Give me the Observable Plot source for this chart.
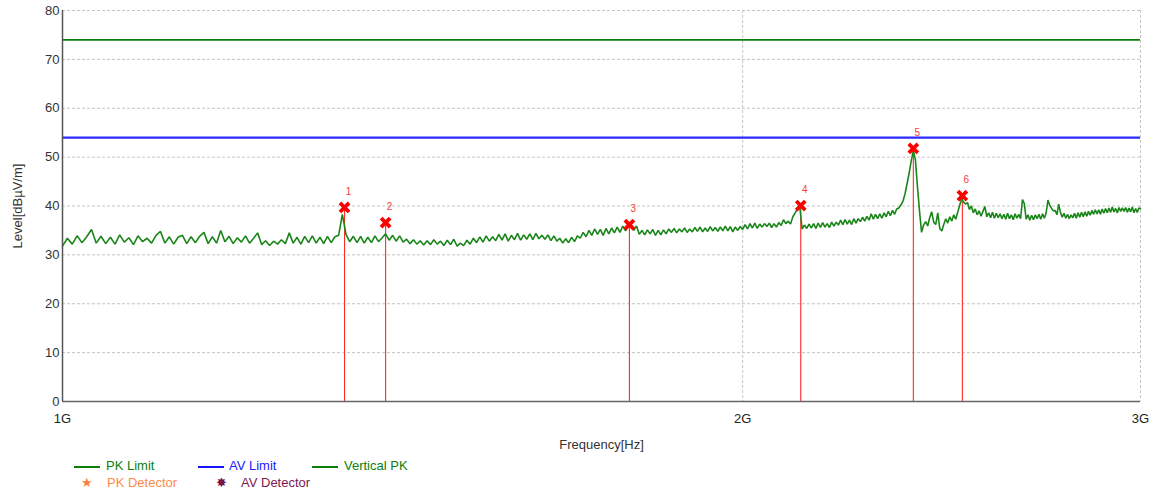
<!DOCTYPE html>
<html>
<head>
<meta charset="utf-8">
<script src="https://cdn.jsdelivr.net/npm/d3@7"></script>
<script src="https://cdn.jsdelivr.net/npm/@observablehq/plot@0.6"></script>
<style>
  body { margin: 0; background: #fff; font-family: "Liberation Sans", Arial, sans-serif; }
  #wrap { position: relative; width: 1156px; }
  #legend { position: relative; height: 40px; font-size: 13px; }
  .li { position: absolute; white-space: nowrap; line-height: 16px; }
  .sw { position: absolute; height: 2px; }
  .sym { position: absolute; font-size: 13px; line-height: 16px; }
</style>
</head>
<body>
<div id="wrap">
  <div id="chart"></div>
  <div id="legend"></div>
</div>
<script>
// ---- data ----
const sweepStartMHz = 1000;
const sweepStepMHz = 5;
const traceLevels = [
  31.8, 33.4, 32.2, 33.9, 32.5, 33.7, 35.2, 32.4, 33.8, 32.3,
  33.6, 32.2, 34.1, 32.6, 33.5, 32.1, 33.9, 32.7, 33.4, 32.4,
  34.0, 34.8, 32.4, 33.7, 32.2, 33.6, 34.0, 32.3, 33.7, 32.5,
  33.8, 34.6, 32.3, 33.7, 32.4, 35.0, 32.7, 33.8, 32.3, 33.5,
  32.6, 33.9, 32.4, 33.4, 34.5, 32.1, 32.9, 31.9, 32.8, 32.2,
  33.1, 32.3, 34.5, 32.4, 33.6, 32.2, 33.8, 32.5, 33.9, 32.4,
  33.6, 32.3, 33.8, 32.5, 33.7, 34.0, 38.3, 34.2, 32.7, 33.8,
  32.5, 33.8, 32.4, 33.6, 32.5, 33.9, 32.7, 33.5, 34.3, 33.0,
  34.0, 32.8, 33.9, 32.6, 33.2, 32.3, 33.1, 32.2, 32.9, 32.0,
  32.9, 32.1, 33.1, 32.2, 32.8, 31.9, 33.0, 32.1, 33.2, 31.8,
  32.4, 31.9, 33.0, 32.2, 33.4, 32.5, 33.7, 32.6, 33.9, 32.8,
  33.7, 32.9, 34.2, 33.0, 34.3, 32.8, 34.0, 33.1, 34.4, 33.0,
  34.1, 33.2, 34.3, 33.1, 34.4, 33.3, 34.0, 33.2, 34.1, 32.9,
  33.9, 32.8, 33.4, 32.4, 33.3, 32.5, 33.6, 32.7, 33.9, 33.4,
  34.6, 33.7, 35.0, 34.0, 35.3, 34.2, 35.2, 34.0, 35.4, 34.3,
  35.5, 34.5, 35.7, 34.6, 35.9, 34.9, 36.1, 36.0, 35.0, 35.9,
  34.2, 35.0, 34.1, 35.1, 34.3, 35.2, 34.0, 35.0, 34.1, 35.1,
  34.3, 35.3, 34.6, 35.4, 34.5, 35.3, 34.7, 35.5, 34.6, 35.3,
  34.7, 35.6, 34.8, 35.7, 34.7, 35.5, 34.8, 35.8, 34.9, 35.6,
  34.8, 35.7, 34.9, 35.9, 34.9, 35.8, 34.7, 35.7, 35.0, 35.8,
  35.2, 36.2, 35.3, 36.4, 35.5, 36.5, 35.4, 36.3, 35.7, 36.4,
  35.8, 36.5, 35.6, 36.4, 35.7, 36.6, 36.0, 37.2, 36.4, 36.9,
  36.3, 37.8, 38.6, 39.4, 39.8, 35.3, 36.1, 35.4, 36.3, 35.5,
  36.4, 35.4, 36.5, 35.6, 36.6, 35.7, 36.4, 35.6, 36.7, 35.9,
  36.7, 36.1, 37.1, 36.2, 37.2, 36.3, 37.1, 36.2, 37.4, 36.5,
  37.4, 36.8, 37.7, 36.9, 37.9, 37.1, 38.4, 37.3, 38.3, 37.4,
  38.4, 37.5, 38.6, 37.8, 38.9, 38.0, 39.1, 38.3, 39.4, 39.6,
  40.2, 41.0, 42.5, 44.6, 46.8, 49.3, 51.3, 49.5, 44.0, 39.0,
  34.6, 36.1, 36.8, 35.9, 37.6, 38.8, 36.7, 36.2, 38.6, 35.4,
  34.9, 36.2, 37.4, 36.5, 37.8, 36.9, 38.2, 37.3, 38.7, 40.1,
  41.5, 40.8, 40.4, 40.7, 39.3, 40.0, 38.6, 39.4, 38.2, 39.0,
  37.9, 38.9, 39.9, 37.8, 38.6, 37.6, 38.7, 37.5, 38.5, 37.6,
  38.4, 37.4, 38.3, 37.3, 38.5, 37.4, 38.2, 37.2, 38.4, 37.5,
  38.3, 37.4, 41.3, 40.5, 37.3, 38.2, 37.1, 38.1, 37.2, 38.2,
  37.4, 38.3, 37.3, 38.4, 37.5, 38.6, 41.2, 40.2, 39.5, 39.0,
  39.1, 38.2, 40.4, 38.7, 37.7, 38.5, 37.5, 38.3, 37.4, 38.2,
  37.6, 38.5, 37.5, 38.6, 37.7, 38.7, 37.8, 38.8, 37.9, 38.9,
  38.1, 39.1, 38.3, 39.2, 38.4, 39.2, 38.3, 39.4, 38.5, 39.5,
  38.6, 39.6, 38.7, 39.8, 38.8, 39.5, 38.6, 39.7, 38.9, 39.6,
  38.9, 39.7, 38.7, 39.6, 38.8, 39.8, 38.6, 39.5, 38.7, 39.6, 39.4
];
const markerFreqMHz = [1333, 1390, 1782, 2122, 2380, 2502];
const markerLevels = [39.7, 36.6, 36.2, 40.1, 51.8, 42.1];
const markerLabels = ["1", "2", "3", "4", "5", "6"];
const pkLimit = 74;
const avLimit = 54;
const xTicksMHz = [1000, 2000, 3000];
const xTickLabels = ["1G", "2G", "3G"];
const yTicks = [0, 10, 20, 30, 40, 50, 60, 70, 80];
const xLabel = "Frequency[Hz]";
const yLabel = "Level[dBµV/m]";
const legendItems = ["PK Limit", "AV Limit", "Vertical PK", "PK Detector", "AV Detector"];

// ---- tables ----
const trace = traceLevels.map((v, i) => ({f: sweepStartMHz + i * sweepStepMHz, v}));
const markers = markerFreqMHz.map((f, i) => ({f, v: markerLevels[i], label: markerLabels[i]}));

const chart = Plot.plot({
  width: 1156,
  height: 455,
  marginLeft: 62,
  marginRight: 16,
  marginTop: 10,
  marginBottom: 54,
  style: {fontFamily: "'Liberation Sans', Arial, sans-serif", fontSize: "13px", color: "#333", background: "#fff"},
  x: {type: "log", domain: [1000, 3000]},
  y: {domain: [0, 80]},
  marks: [
    Plot.gridY(yTicks.slice(1), {stroke: "#c4c4c4", strokeOpacity: 1, strokeDasharray: "3,2"}),
    Plot.gridX(xTicksMHz.slice(1), {stroke: "#c4c4c4", strokeOpacity: 1, strokeDasharray: "3,2"}),
    Plot.ruleY([pkLimit], {stroke: "#0a800a", strokeWidth: 1.6}),
    Plot.ruleY([avLimit], {stroke: "#2a2aff", strokeWidth: 2.2}),
    Plot.ruleX(markers, {x: "f", y1: 0, y2: "v", stroke: "#ff2a2a", strokeWidth: 1.1}),
    Plot.line(trace, {x: "f", y: "v", stroke: "#1a861a", strokeWidth: 1.6, strokeLinejoin: "miter"}),
    Plot.dot(markers, {x: "f", y: "v", symbol: "times", r: 4.2, stroke: "#ff0000", strokeWidth: 3.8}),
    Plot.text(markers, {x: "f", y: "v", text: "label", dx: 4, dy: -16, fill: "#ff3a3a", fontSize: 10}),
    Plot.axisY(yTicks, {tickSize: 0, tickPadding: 3, label: null, fill: "#333", fontSize: 13}),
    Plot.axisX(xTicksMHz, {tickSize: 0, tickPadding: 12, label: null, tickFormat: (d) => xTickLabels[xTicksMHz.indexOf(d)], fill: "#222", fontSize: 13}),
    Plot.ruleX([1000], {stroke: "#555", strokeWidth: 1.5}),
    Plot.ruleY([0], {stroke: "#666", strokeWidth: 1.5}),
    Plot.text([yLabel], {frameAnchor: "left", textAnchor: "middle", lineAnchor: "middle", dx: -45, rotate: -90, fill: "#333", fontSize: 13}),
    Plot.text([xLabel], {frameAnchor: "bottom", textAnchor: "middle", lineAnchor: "middle", dy: 43, fill: "#333", fontSize: 13})
  ]
});
document.getElementById("chart").appendChild(chart);

// ---- legend ----
const lg = document.getElementById("legend");
const items = [
  {kind: "line", color: "#0a800a", text: legendItems[0], textColor: "#0a800a", sx: 74, tx: 106, row: 0},
  {kind: "line", color: "#1414ff", text: legendItems[1], textColor: "#2020ff", sx: 198, tx: 229, row: 0},
  {kind: "line", color: "#0a800a", text: legendItems[2], textColor: "#0a800a", sx: 312, tx: 344, row: 0},
  {kind: "sym", sym: "★", color: "#ff7f3a", text: legendItems[3], textColor: "#ff8a4a", sx: 81, tx: 107, row: 1},
  {kind: "sym", sym: "✸", color: "#7a1048", text: legendItems[4], textColor: "#7a1a52", sx: 216, tx: 241, row: 1}
];
items.forEach(it => {
  const top = it.row === 0 ? 3 : 20;
  if (it.kind === "line") {
    const s = document.createElement("div");
    s.className = "sw";
    s.style.left = it.sx + "px"; s.style.width = "26px"; s.style.top = (top + 8) + "px";
    s.style.background = it.color;
    lg.appendChild(s);
  } else {
    const s = document.createElement("div");
    s.className = "sym";
    s.style.left = it.sx + "px"; s.style.top = top + "px"; s.style.color = it.color;
    s.textContent = it.sym;
    lg.appendChild(s);
  }
  const t = document.createElement("div");
  t.className = "li";
  t.style.left = it.tx + "px"; t.style.top = top + "px"; t.style.color = it.textColor;
  t.textContent = it.text;
  lg.appendChild(t);
});
</script>
</body>
</html>
